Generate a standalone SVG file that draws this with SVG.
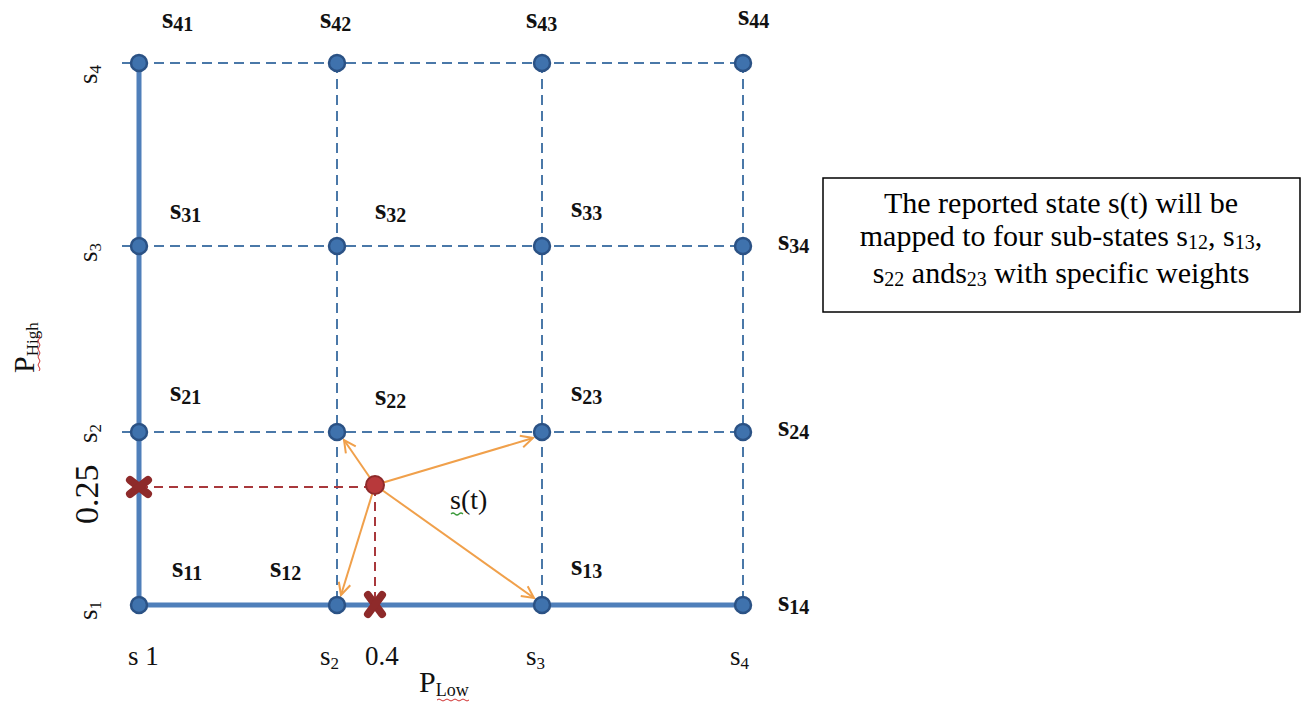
<svg xmlns="http://www.w3.org/2000/svg" width="1312" height="704" viewBox="0 0 1312 704">
<style>
.dash{stroke:#4a78a8;stroke-width:2;stroke-dasharray:10 6;fill:none}
.thick{stroke:#4f7fba;stroke-width:5;fill:none}
.node{fill:#3f72ad;stroke:#2b5285;stroke-width:2.5}
.lbl{font-family:"Liberation Serif","Times New Roman",serif;font-weight:bold;font-size:29px;fill:#111}
.sub{font-size:20px}
.ax{font-family:"Liberation Serif","Times New Roman",serif;font-size:27px;fill:#111}
.axs{font-size:17px}
.arrow{stroke:#f0a04b;stroke-width:2;fill:none;marker-end:url(#ah)}
.red{stroke:#a8383c;stroke-width:2;stroke-dasharray:9 6;fill:none}
.xm{stroke:#8e2a2a;stroke-width:8;stroke-linecap:round}
.note{font-family:"Liberation Serif","Times New Roman",serif;font-size:30px;fill:#000}
.ns{font-size:20px}
</style>
<defs>
<marker id="ah" markerWidth="16" markerHeight="16" refX="13" refY="8" orient="auto" markerUnits="userSpaceOnUse">
<path d="M1,2 L13,8 L1,14" fill="none" stroke="#f0a04b" stroke-width="2"/>
</marker>
</defs>
<rect width="1312" height="704" fill="#fff"/>
<g id="connectors">
<line class="dash" x1="122" y1="63" x2="743" y2="63"/>
<line class="dash" x1="122" y1="246" x2="743" y2="246"/>
<line class="dash" x1="122" y1="432" x2="743" y2="432"/>
<line class="dash" x1="337" y1="63" x2="337" y2="614"/>
<line class="dash" x1="542" y1="63" x2="542" y2="614"/>
<line class="dash" x1="743" y1="63" x2="743" y2="614"/>
<line class="thick" x1="139" y1="63" x2="139" y2="605"/>
<line class="thick" x1="139" y1="605" x2="743" y2="605"/>
<line class="red" x1="139" y1="487" x2="374" y2="487"/>
<line class="red" x1="375" y1="487" x2="375" y2="600"/>
<line class="arrow" x1="375" y1="485" x2="344" y2="440"/>
<line class="arrow" x1="375" y1="485" x2="533" y2="438"/>
<line class="arrow" x1="375" y1="485" x2="341" y2="595"/>
<line class="arrow" x1="375" y1="485" x2="534" y2="598"/>
</g>
<g id="nodes">
<circle class="node" cx="139" cy="63" r="8"/><circle class="node" cx="337" cy="63" r="8"/><circle class="node" cx="542" cy="63" r="8"/><circle class="node" cx="743" cy="63" r="8"/>
<circle class="node" cx="139" cy="246" r="8"/><circle class="node" cx="337" cy="246" r="8"/><circle class="node" cx="542" cy="246" r="8"/><circle class="node" cx="743" cy="246" r="8"/>
<circle class="node" cx="139" cy="432" r="8"/><circle class="node" cx="337" cy="432" r="8"/><circle class="node" cx="542" cy="432" r="8"/><circle class="node" cx="743" cy="432" r="8"/>
<circle class="node" cx="139" cy="605" r="8"/><circle class="node" cx="337" cy="605" r="8"/><circle class="node" cx="542" cy="605" r="8"/><circle class="node" cx="743" cy="605" r="8"/>
</g>
<g id="state-point">
<circle cx="375" cy="485" r="9" fill="#b8393b" stroke="#8e2a2a" stroke-width="2"/>
<text class="ax" x="450" y="509" style="font-size:28px">s(t)</text>
<path d="M451,514 q2,-2 4,0 t4,0 t4,0" fill="none" stroke="#3a9a3a" stroke-width="1.2"/>
</g>
<g id="marks">
<line class="xm" x1="130" y1="480" x2="148" y2="494"/><line class="xm" x1="130" y1="494" x2="148" y2="480"/>
<line class="xm" x1="368" y1="595" x2="382" y2="614"/><line class="xm" x1="382" y1="595" x2="368" y2="614"/>
</g>
<g id="state-labels" class="lbl">
<text x="162" y="28">s<tspan class="sub" dy="3">41</tspan></text>
<text x="320" y="28">s<tspan class="sub" dy="3">42</tspan></text>
<text x="526" y="28">s<tspan class="sub" dy="3">43</tspan></text>
<text x="738" y="25">s<tspan class="sub" dy="3">44</tspan></text>
<text x="170" y="219">s<tspan class="sub" dy="3">31</tspan></text>
<text x="375" y="219">s<tspan class="sub" dy="3">32</tspan></text>
<text x="571" y="217">s<tspan class="sub" dy="3">33</tspan></text>
<text x="778" y="250">s<tspan class="sub" dy="3">34</tspan></text>
<text x="170" y="401">s<tspan class="sub" dy="3">21</tspan></text>
<text x="375" y="405">s<tspan class="sub" dy="3">22</tspan></text>
<text x="571" y="401">s<tspan class="sub" dy="3">23</tspan></text>
<text x="778" y="436">s<tspan class="sub" dy="3">24</tspan></text>
<text x="172" y="577">s<tspan class="sub" dy="3">11</tspan></text>
<text x="270" y="577">s<tspan class="sub" dy="3">12</tspan></text>
<text x="571" y="575">s<tspan class="sub" dy="3">13</tspan></text>
<text x="778" y="611">s<tspan class="sub" dy="3">14</tspan></text>
</g>
<g id="axis-labels" class="ax">
<text transform="translate(97,84) rotate(-90)">s<tspan class="axs" dy="4">4</tspan></text>
<text transform="translate(97,262) rotate(-90)">s<tspan class="axs" dy="4">3</tspan></text>
<text transform="translate(97,443) rotate(-90)">s<tspan class="axs" dy="4">2</tspan></text>
<text transform="translate(98,524) rotate(-90)" style="font-size:34px">0.25</text>
<text transform="translate(97,620) rotate(-90)">s<tspan class="axs" dy="4">1</tspan></text>
<text transform="translate(34,373) rotate(-90)" style="font-size:30px">P<tspan class="axs" dy="4">High</tspan></text>
<path d="M39,335 q2,2 0,4 t0,4 t0,4 t0,4 t0,4 t0,4 t0,4 t0,4 t0,4" fill="none" stroke="#d03030" stroke-width="1"/>
<text x="128" y="665">s 1</text>
<text x="320" y="665">s<tspan class="axs" dy="4">2</tspan></text>
<text x="365" y="665">0.4</text>
<text x="526" y="665">s<tspan class="axs" dy="4">3</tspan></text>
<text x="730" y="665">s<tspan class="axs" dy="4">4</tspan></text>
<text x="419" y="692" style="font-size:30px">P<tspan class="axs" style="font-size:18px" dy="4">Low</tspan></text>
<path d="M437,700 q2,-2 4,0 t4,0 t4,0 t4,0 t4,0 t4,0 t4,0 t4,0" fill="none" stroke="#d03030" stroke-width="1"/>
</g>
<g id="note">
<rect x="823" y="178" width="477" height="134" fill="#fff" stroke="#000" stroke-width="1.5"/>
<g class="note" text-anchor="middle">
<text x="1061" y="213">The reported state s(t) will be</text>
<text x="1061" y="246">mapped to four sub-states s<tspan class="ns" dy="3">12</tspan><tspan dy="-3">, s</tspan><tspan class="ns" dy="3">13</tspan><tspan dy="-3">,</tspan></text>
<text x="1061" y="283">s<tspan class="ns" dy="3">22</tspan><tspan dy="-3"> ands</tspan><tspan class="ns" dy="3">23</tspan><tspan dy="-3"> with specific weights</tspan></text>
</g>
</g>
</svg>
